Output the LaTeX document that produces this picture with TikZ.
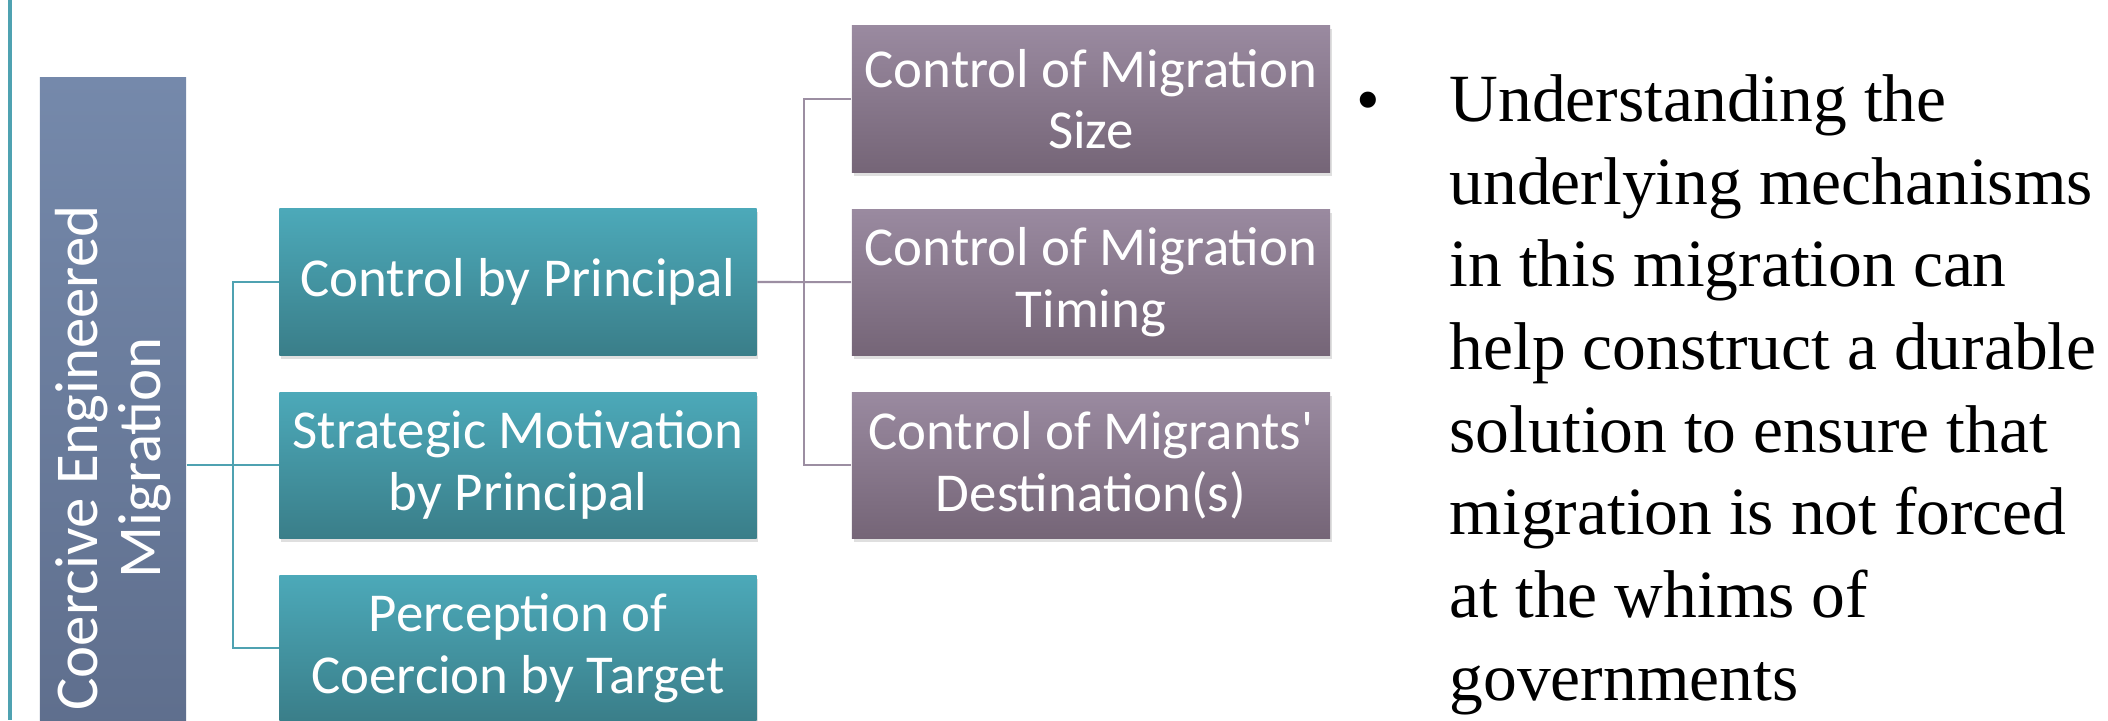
\documentclass[tikz,border=0pt]{standalone}
\usepackage{fontspec}
\usepackage{xcolor}
\usepackage{tikz}
\usetikzlibrary{positioning, calc, shadows}
\newfontfamily\boxfont{Carlito}
\newfontfamily\notefont{Liberation Serif}
\definecolor{tealtop}{HTML}{4CA9B9}
\definecolor{tealbot}{HTML}{3A7E89}
\definecolor{mauvetop}{HTML}{9A8AA0}
\definecolor{mauvebot}{HTML}{756577}
\definecolor{slatetop}{HTML}{7589AB}
\definecolor{slatebot}{HTML}{5B6A88}
\definecolor{tealline}{HTML}{4FA2B1}
\definecolor{mauveline}{HTML}{9C8EA2}
\tikzstyle{root} = [rectangle, rotate=90, minimum width=7.6cm, minimum height=1.46cm, align=center, text=white, top color=slatetop, bottom color=slatebot, font=\boxfont\fontsize{17.3}{18}\selectfont]
\tikzstyle{factor} = [rectangle, minimum width=4.77cm, minimum height=1.46cm, align=center, text=white, top color=tealtop, bottom color=tealbot, drop shadow={shadow xshift=0.5pt, shadow yshift=-1pt, opacity=0.25}, font=\boxfont\fontsize{15.6}{17.5}\selectfont]
\tikzstyle{control} = [rectangle, minimum width=4.78cm, minimum height=1.46cm, align=center, text=white, top color=mauvetop, bottom color=mauvebot, drop shadow={shadow xshift=0.5pt, shadow yshift=-1pt, opacity=0.25}, font=\boxfont\fontsize{15.6}{17.5}\selectfont]
\tikzstyle{tealarm} = [draw=tealline, line width=0.6pt]
\tikzstyle{mauvearm} = [draw=mauveline, line width=0.6pt]
\tikzstyle{note} = [font=\notefont\fontsize{19.2}{23.5}\selectfont]

\begin{document}
\begin{tikzpicture}[x=0.01cm, y=-0.01cm, node distance=1.83cm]
        \useasboundingbox (0,0) rectangle (2108,720);
        \clip (0,0) rectangle (2108,720);
        \fill[white] (0,0) rectangle (2108,720);
        \draw[draw=tealline, line width=1.1pt] (10,0) -- (10,720);

        \node (root) [root] at (113,458) {Coercive Engineered\\Migration};
        \node (principal) [factor] at (518,282) {Control by Principal};
        \node (motive) [factor, below of=principal] {Strategic Motivation\\by Principal};
        \node (target) [factor, below of=motive] {Perception of\\Coercion by Target};
        \node (size) [control] at (1091,99) {Control of Migration\\Size};
        \node (timing) [control, below of=size] {Control of Migration\\Timing};
        \node (dest) [control, below of=timing] {Control of Migrants'\\Destination(s)};

        \coordinate (hubA) at ($(root.south |- motive)!0.5!(motive.west)$);
        \coordinate (hubB) at ($(principal.east)!0.5!(timing.west)$);
        \draw [tealarm] (root.south |- motive) -- (motive.west);
        \draw [tealarm] (principal.west) -| (hubA) |- (target.west);
        \draw [mauvearm] (principal.east) -- (timing.west);
        \draw [mauvearm] (size.west) -| (hubB) |- (dest.west);

        \node (dot) [note, anchor=base] at (1368,122) {•};
        \node (text) [note, anchor=north west, align=left, inner sep=0pt] at (1449,74) {Understanding the\\underlying mechanisms\\in this migration can\\help construct a durable\\solution to ensure that\\migration is not forced\\at the whims of\\governments};
    \end{tikzpicture}
\end{document}
